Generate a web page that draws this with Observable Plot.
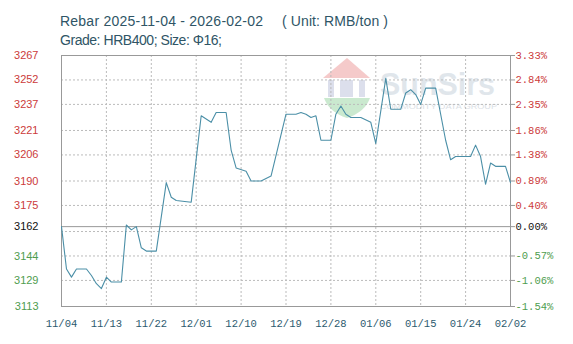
<!DOCTYPE html>
<html>
<head>
<meta charset="utf-8">
<script src="https://cdn.jsdelivr.net/npm/d3@7"></script>
<script src="https://cdn.jsdelivr.net/npm/@observablehq/plot@0.6"></script>
<style>
  html, body { margin: 0; padding: 0; background: #fff; }
  #wrap { position: relative; width: 573px; height: 344px; overflow: hidden; }
  #title { position: absolute; left: 0; top: 0; }
  #wm { position: absolute; left: 320px; top: 55px; pointer-events: none; }
  #chart { position: absolute; left: 0; top: 0; }
</style>
</head>
<body>
<div id="wrap">
  <div id="chart"></div>
  <svg id="title" width="573" height="52" xmlns="http://www.w3.org/2000/svg"
       font-family="Liberation Sans, Arial, sans-serif" font-size="14" fill="#2f5566">
    <text x="60" y="26.3" textLength="203" lengthAdjust="spacing">Rebar 2025-11-04 - 2026-02-02</text>
    <text x="282" y="26.3" textLength="106" lengthAdjust="spacing">( Unit: RMB/ton )</text>
    <text x="60" y="44.7" textLength="162" lengthAdjust="spacing">Grade: HRB400; Size: Φ16;</text>
  </svg>
</div>
<script>
// ---- data ----
const dates = [
  "2025-11-04","2025-11-05","2025-11-06","2025-11-07","2025-11-09","2025-11-10","2025-11-11","2025-11-12",
  "2025-11-13","2025-11-14","2025-11-16","2025-11-17","2025-11-18","2025-11-19","2025-11-20","2025-11-21",
  "2025-11-23","2025-11-25","2025-11-26","2025-11-27","2025-11-30","2025-12-02","2025-12-04","2025-12-05",
  "2025-12-07","2025-12-08","2025-12-09","2025-12-11","2025-12-12","2025-12-14","2025-12-16","2025-12-19",
  "2025-12-21","2025-12-22","2025-12-23","2025-12-24","2025-12-25","2025-12-26","2025-12-28","2025-12-29",
  "2025-12-30","2025-12-31","2026-01-01","2026-01-03","2026-01-05","2026-01-06","2026-01-08","2026-01-09",
  "2026-01-11","2026-01-12","2026-01-13","2026-01-14","2026-01-15","2026-01-16","2026-01-18","2026-01-20",
  "2026-01-21","2026-01-22","2026-01-25","2026-01-26","2026-01-27","2026-01-28","2026-01-29","2026-01-30",
  "2026-02-01","2026-02-02"
];
const prices = [
  3162,3136,3131,3136,3136,3132,3127,3124,
  3131,3128,3128,3163,3160,3162,3149,3147,
  3147,3189,3180,3178,3177,3230,3226,3232,
  3232,3209,3198,3196,3190,3190,3193,3231,
  3231,3232,3231,3229,3230,3215,3215,3231,
  3236,3231,3229,3229,3226,3213,3253,3234,
  3234,3244,3246,3243,3237,3247,3247,3215,
  3203,3205,3205,3212,3205,3188,3201,3199,
  3199,3189
];
const yDomain = [3113, 3267];
const baseValue = 3162;
const upTicks = [3267, 3252, 3237, 3221, 3206, 3190, 3175];
const upPct = ["3.33%", "2.84%", "2.35%", "1.86%", "1.38%", "0.89%", "0.40%"];
const downTicks = [3144, 3129, 3113];
const downPct = ["-0.57%", "-1.06%", "-1.54%"];
const gridValues = [3129, 3144, 3159, 3175, 3190, 3206, 3221, 3237, 3252];
const xTickDates = ["2025-11-04","2025-11-13","2025-11-22","2025-12-01","2025-12-10","2025-12-19",
                    "2025-12-28","2026-01-06","2026-01-15","2026-01-24","2026-02-02"];

// ---- build ----
const parse = d3.utcParse("%Y-%m-%d");
const data = dates.map((d, i) => ({date: parse(d), value: prices[i]}));
const xTicks = xTickDates.map(parse);
const pctMap = new Map([...upTicks.map((t, i) => [t, upPct[i]]), ...downTicks.map((t, i) => [t, downPct[i]]), [baseValue, "0.00%"]]);

const red = "#cc3b3b", green = "#4f9d4f", black = "#111";
const leftFont = {fontFamily: "Liberation Sans, Arial, sans-serif", fontSize: 11};
const monoFont = {fontFamily: "Liberation Mono, DejaVu Sans Mono, monospace", fontSize: 10.5};
const plain = d => String(d);

const chart = Plot.plot({
  width: 573,
  height: 344,
  marginLeft: 61,
  marginRight: 63,
  marginTop: 55,
  marginBottom: 38,
  style: {background: "transparent", overflow: "visible"},
  x: {type: "utc", domain: [parse(dates[0]), parse(dates[dates.length - 1])]},
  y: {domain: yDomain},
  marks: [
    Plot.gridY(gridValues, {stroke: "#bbb", strokeOpacity: 1, strokeDasharray: "2,2"}),
    Plot.gridX(xTicks.slice(1, -1), {stroke: "#bbb", strokeOpacity: 1, strokeDasharray: "2,2"}),
    Plot.ruleY([baseValue], {stroke: "#999", strokeWidth: 1}),
    Plot.frame({stroke: "#999"}),
    Plot.line(data, {x: "date", y: "value", stroke: "#4b8fa7", strokeWidth: 1.1}),
    // left axis
    Plot.axisY(upTicks, {anchor: "left", tickSize: 0, tickPadding: 23, fill: red, tickFormat: plain, ...leftFont, label: null}),
    Plot.axisY([baseValue], {anchor: "left", tickSize: 0, tickPadding: 23, fill: black, tickFormat: plain, ...leftFont, label: null}),
    Plot.axisY(downTicks, {anchor: "left", tickSize: 0, tickPadding: 23, fill: green, tickFormat: plain, ...leftFont, label: null}),
    // right axis
    Plot.axisY(upTicks, {anchor: "right", tickSize: 4, tickPadding: 1, stroke: "#999", fill: red, tickFormat: d => pctMap.get(d), ...monoFont, label: null}),
    Plot.axisY([baseValue], {anchor: "right", tickSize: 4, tickPadding: 1, stroke: "#999", fill: black, tickFormat: d => pctMap.get(d), ...monoFont, label: null}),
    Plot.axisY(downTicks, {anchor: "right", tickSize: 4, tickPadding: 1, stroke: "#999", fill: green, tickFormat: d => pctMap.get(d), ...monoFont, label: null}),
    // x axis
    Plot.axisX(xTicks, {anchor: "bottom", tickSize: 0, tickPadding: 13, fill: "#2c5a6e", tickFormat: d3.utcFormat("%m/%d"), ...monoFont, label: null})
  ]
});
document.getElementById("chart").appendChild(chart);

// watermark (decorative, behind the line)
const wm = document.createElement("div");
wm.id = "wm";
wm.innerHTML = `
<svg width="185" height="66" xmlns="http://www.w3.org/2000/svg" style="opacity:0.6">
  <polygon points="27,3 3,23 50,23" fill="#f0a8a8"/>
  <rect x="8" y="25" width="6" height="17" fill="#c5cbe0"/>
  <rect x="20" y="25" width="13" height="17" fill="#c5cbe0"/>
  <rect x="39" y="25" width="6" height="17" fill="#c5cbe0"/>
  <path d="M4,43 L50,43 Q45,57 27,63 Q9,57 4,43 Z" fill="#a8dcb0"/>
  <text x="60" y="40" textLength="115" lengthAdjust="spacingAndGlyphs" font-family="Liberation Sans, Arial, sans-serif" font-size="32" font-weight="bold" fill="#cdd6df">SunSirs</text>
  <text x="60" y="54" textLength="117" lengthAdjust="spacingAndGlyphs" font-family="Liberation Sans, Arial, sans-serif" font-size="7.5" fill="#c4ccd4">COMMODITY DATA GROUP</text>
</svg>`;
const wrap = document.getElementById("wrap");
wrap.insertBefore(wm, document.getElementById("chart"));
</script>
</body>
</html>
